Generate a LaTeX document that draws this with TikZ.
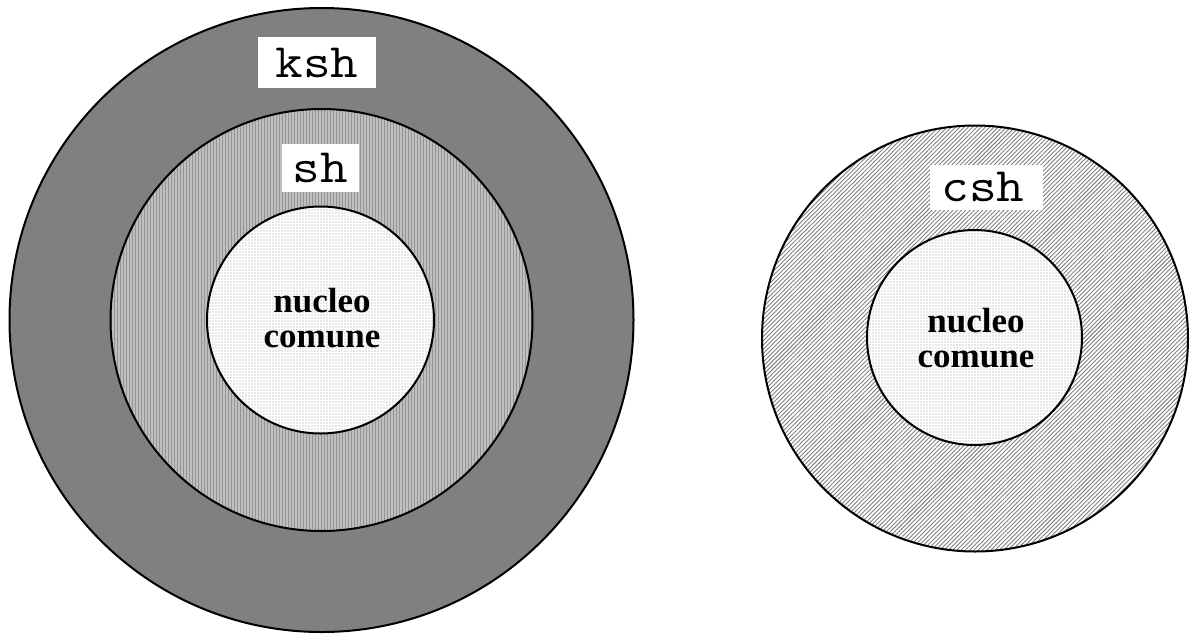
\documentclass[tikz,border=0pt]{standalone}
\usepackage{fontspec}
\setmainfont{Liberation Serif}
\usetikzlibrary{patterns.meta}
\newcommand{\monolbl}[1]{\scalebox{1.12}[1]{\ttfamily\fontsize{48}{48}\selectfont #1}}
\begin{document}
\begin{tikzpicture}[x=1pt,y=-1pt,
  ring/.style={draw=black,line width=2pt},
  lbl/.style={fill=white,inner sep=0pt},
  core/.style={align=center,font=\bfseries\fontsize{35}{35}\selectfont}]
\useasboundingbox (0,0) rectangle (1192,633);
% left group
\fill[black!50] (321.5,320) circle (312);
\draw[ring] (321.5,320) circle (312);
\fill[black!25] (321.5,320) circle (211);
\fill[pattern={Lines[angle=90,distance=3pt,line width=1pt]},pattern color=black!42] (321.5,320) circle (211);
\draw[ring] (321.5,320) circle (211);
\fill[white] (320.5,320) circle (113.5);
\fill[pattern={Dots[distance=3pt,radius=0.55pt]},pattern color=black!40] (320.5,320) circle (113.5);
\draw[ring] (320.5,320) circle (113.5);
\node[lbl,minimum width=118pt,minimum height=51pt] (ksh) at (317,62.5) {};
\node[anchor=base] (kshT) at (317,77) {\monolbl{ksh}};
\node[lbl,minimum width=77pt,minimum height=48pt] (sh) at (320.5,168) {};
\node[anchor=base] (shT) at (320.5,182) {\monolbl{sh}};
\node[core] (n1) at (322,318) {nucleo\\comune};
% right group
\fill[white] (975,338.5) circle (213);
\fill[pattern={Lines[angle=45,distance=3pt,line width=0.9pt]},pattern color=black!50] (975,338.5) circle (213);
\draw[ring] (975,338.5) circle (213);
\fill[white] (974.5,337.5) circle (107.5);
\fill[pattern={Dots[distance=3pt,radius=0.55pt]},pattern color=black!40] (974.5,337.5) circle (107.5);
\draw[ring] (974.5,337.5) circle (107.5);
\node[lbl,minimum width=113pt,minimum height=45pt] (csh) at (986.5,187.5) {};
\node[anchor=base] (cshT) at (983,201) {\monolbl{csh}};
\node[core] (n2) at (976,338) {nucleo\\comune};
\end{tikzpicture}
\end{document}
